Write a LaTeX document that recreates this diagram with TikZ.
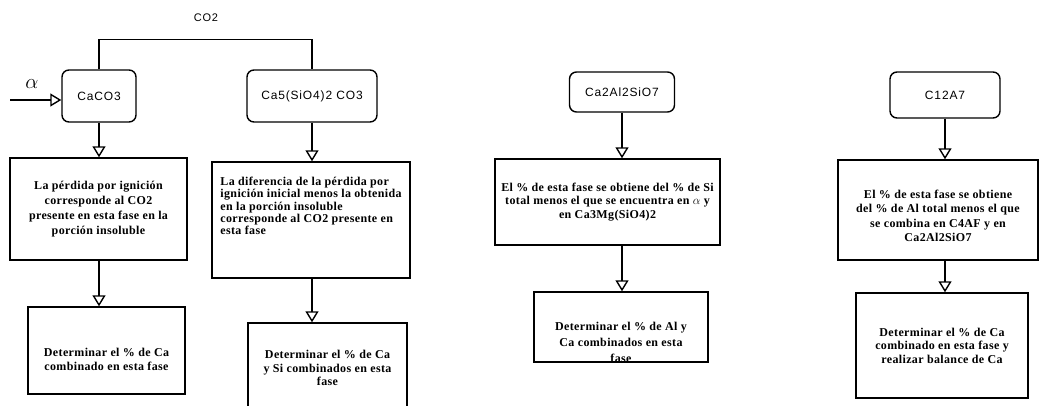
\documentclass[tikz,border=0pt]{standalone}
\usepackage{fontspec}
\setmainfont{Liberation Serif}
\newfontfamily\phasefont[LetterSpace=7]{Liberation Sans}
\newfontfamily\notefont[LetterSpace=3]{Liberation Serif}
\usetikzlibrary{arrows.meta}
\begin{document}
\begin{tikzpicture}[x=1pt,y=-1pt,
  phase/.style={draw, rounded corners=7pt, line width=1.4pt, inner sep=0pt,
    font=\phasefont\fontsize{12}{14}\selectfont},
  note/.style={draw, line width=1.4pt, inner sep=0pt},
  notetext/.style={inner sep=0pt, align=center,
    font=\notefont\bfseries\fontsize{12}{13.5}\selectfont},
  flow/.style={line width=1.4pt, -{Triangle[open, length=11pt, width=13pt]}}]
\useasboundingbox (0,0) rectangle (1040,406);
% top row: phases
\node[phase, minimum width=74, minimum height=52] (caco3) at (99,96) {CaCO3};
\node[phase, minimum width=130, minimum height=52] (casi) at (312,96) {Ca5(SiO4)2 CO3};
\node[phase, minimum width=105, minimum height=40] (caal) at (622,92) {Ca2Al2SiO7};
\node[phase, minimum width=110, minimum height=46] (c12) at (945,95) {C12A7};
\node[font=\phasefont\fontsize{11}{13}\selectfont] (co2) at (206,18) {CO2};
\node[font=\fontsize{20}{22}\selectfont] (alpha) at (32,84) {$\alpha$};
\coordinate (src) at (10,100);
% middle row
\node[note, notetext, minimum width=177, minimum height=102,
  font=\notefont\bfseries\fontsize{12}{15}\selectfont] (t1) at (98.5,209)
  {La pérdida por ignición\\corresponde al CO2\\presente en esta fase en la\\porción insoluble};
\node[note, minimum width=198, minimum height=116] (t2) at (311,220) {};
\node[notetext, align=left, font=\notefont\bfseries\fontsize{12}{12.2}\selectfont] (t2x)
  at ([yshift=14pt]t2.center)
  {La diferencia de la pérdida por\\ignición inicial menos la obtenida\\en la porción insoluble\\corresponde al CO2 presente en\\esta fase};
\node[note, notetext, minimum width=225, minimum height=86] (t5) at (607.5,202)
  {El \% de esta fase se obtiene del \% de Si\\total menos el que se encuentra en $\alpha$ y\\en Ca3Mg(SiO4)2};
\node[note, minimum width=200, minimum height=100] (t7) at (938,210) {};
\node[notetext, font=\notefont\bfseries\fontsize{12}{14.4}\selectfont] (t7x)
  at ([yshift=-6pt]t7.center)
  {El \% de esta fase se obtiene\\del \% de Al total menos el que\\se combina en C4AF y en\\Ca2Al2SiO7};
% bottom row
\node[note, minimum width=157, minimum height=87] (t3) at (106.5,350.5) {};
\node[notetext] (t3x) at ([yshift=-9pt]t3.center)
  {Determinar el \% de Ca\\combinado en esta fase};
\node[note, notetext, minimum width=159, minimum height=90] (t4) at (327.5,368)
  {Determinar el \% de Ca\\y Si combinados en esta\\fase};
\node[note, minimum width=174, minimum height=70] (t6) at (621,327) {};
\begin{scope}
\clip (t6.south west) rectangle (t6.north east);
\node[notetext, anchor=north, font=\notefont\bfseries\fontsize{12}{16}\selectfont] (t6x)
  at ([yshift=-31pt]t6.north)
  {Determinar el \% de Al y\\Ca combinados en esta\\fase};
\end{scope}
\node[note, notetext, minimum width=172, minimum height=105] (t8) at (942,345.5)
  {Determinar el \% de Ca\\combinado en esta fase y\\realizar balance de Ca};
% connectors
\draw[line width=1.4pt] (caco3.north) -- ++(0,-30) -| (casi.north);
\draw[flow] (src) -- (src -| caco3.west);
\draw[flow] (caco3) -- (caco3 |- t1.north);
\draw[flow] (t1.south -| caco3) -- (caco3 |- t3.north);
\draw[flow] (casi) -- (casi |- t2.north);
\draw[flow] (t2.south -| casi) -- (casi |- t4.north);
\draw[flow] (caal) -- (caal |- t5.north);
\draw[flow] (t5.south -| caal) -- (caal |- t6.north);
\draw[flow] (c12) -- (c12 |- t7.north);
\draw[flow] (t7.south -| c12) -- (c12 |- t8.north);
\end{tikzpicture}
\end{document}
